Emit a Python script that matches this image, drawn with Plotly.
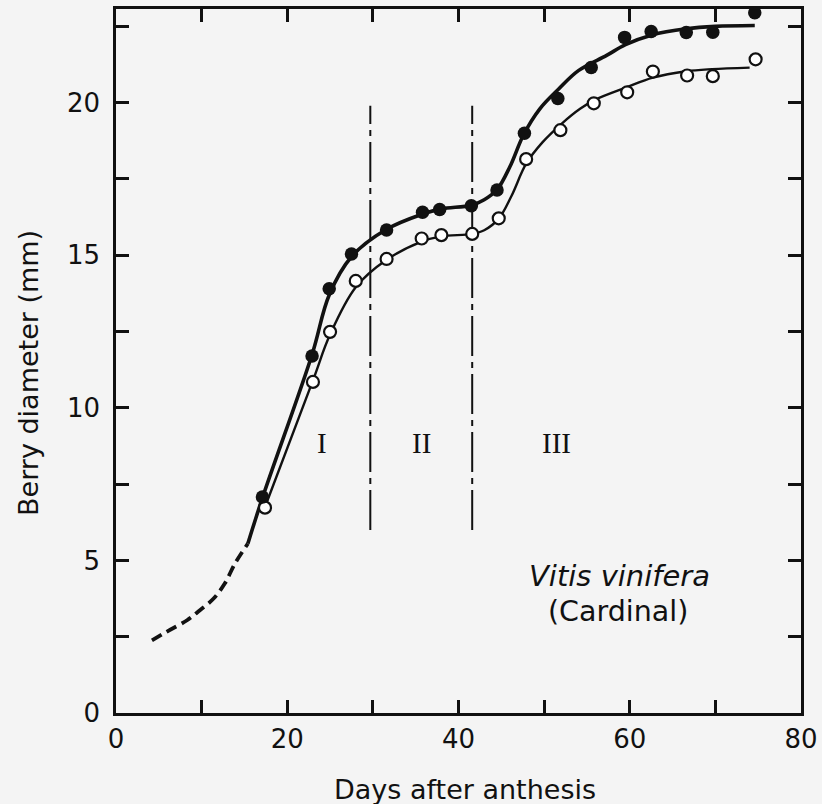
import plotly.graph_objects as go

# ---- data ----
# Measured berry diameters (mm)
days_filled = [17.1, 22.9, 24.9, 27.5, 31.6, 35.8, 37.8, 41.5, 44.5, 47.7, 51.6, 55.5, 59.4, 62.5, 66.6, 69.7, 74.6]
diam_filled = [7.08, 11.7, 13.9, 15.04, 15.83, 16.41, 16.5, 16.62, 17.14, 19.0, 20.14, 21.15, 22.14, 22.33, 22.3, 22.31, 22.95]

days_open = [17.4, 23.0, 25.0, 28.0, 31.6, 35.7, 38.0, 41.6, 44.7, 47.9, 51.9, 55.8, 59.7, 62.7, 66.7, 69.7, 74.7]
diam_open = [6.73, 10.85, 12.49, 14.16, 14.88, 15.55, 15.66, 15.7, 16.21, 18.15, 19.1, 19.98, 20.34, 21.02, 20.89, 20.87, 21.42]

# Fitted curves
curve_filled_days = [15.4, 17.1, 22.9, 24.9, 27.5, 31.6, 35.8, 38.0, 41.5, 43.0, 44.5, 46.0, 47.6, 49.5, 51.7, 54.0, 57.3, 59.5, 62.6, 66.6, 70.0, 74.6]
curve_filled_diam = [5.55, 7.05, 11.75, 13.7, 14.95, 15.85, 16.35, 16.52, 16.64, 16.82, 17.15, 17.9, 18.95, 19.8, 20.45, 21.05, 21.55, 21.9, 22.22, 22.42, 22.5, 22.53]

curve_open_days = [17.4, 23.0, 25.0, 28.0, 31.6, 35.7, 38.0, 41.6, 43.0, 44.7, 46.2, 47.9, 49.8, 52.0, 54.2, 56.0, 59.6, 62.7, 66.6, 69.6, 74.0]
curve_open_diam = [6.75, 10.9, 12.4, 13.95, 14.85, 15.45, 15.62, 15.7, 15.82, 16.2, 16.95, 18.0, 18.7, 19.3, 19.8, 20.1, 20.5, 20.82, 21.03, 21.1, 21.15]

# Extrapolated (dashed) early growth
dashed_days = [4.2, 5.9, 8.3, 9.8, 11.4, 12.7, 13.9, 15.4]
dashed_diam = [2.38, 2.66, 3.04, 3.37, 3.75, 4.24, 4.9, 5.55]

# Stage boundaries (days) and their vertical extent (mm)
stage_bounds = [29.7, 41.6]
stage_line_span = [6.0, 19.9]
stage_labels = ["I", "II", "III"]
stage_label_days = [24.1, 35.7, 51.5]
stage_label_y = 8.85

x_tick_vals = [0, 10, 20, 30, 40, 50, 60, 70, 80]
x_tick_text = ["0", "", "20", "", "40", "", "60", "", "80"]
y_tick_vals = [0, 2.5, 5, 7.5, 10, 12.5, 15, 17.5, 20, 22.5]
y_tick_text = ["0", "", "5", "", "10", "", "15", "", "20", ""]

INK = "#111111"
BG = "#f4f4f4"

fig = go.Figure()

fig.add_trace(go.Scatter(x=dashed_days, y=dashed_diam, mode="lines",
                         line=dict(color=INK, width=3.8, dash="11px,6px", shape="spline"),
                         showlegend=False, hoverinfo="skip"))

for xb in stage_bounds:
    fig.add_trace(go.Scatter(x=[xb, xb], y=stage_line_span, mode="lines",
                             line=dict(color=INK, width=2, dash="40px,6px,6px,6px"),
                             showlegend=False, hoverinfo="skip"))

fig.add_trace(go.Scatter(x=curve_open_days, y=curve_open_diam, mode="lines",
                         line=dict(color=INK, width=2.4, shape="spline", smoothing=1.0),
                         showlegend=False, hoverinfo="skip"))
fig.add_trace(go.Scatter(x=curve_filled_days, y=curve_filled_diam, mode="lines",
                         line=dict(color=INK, width=3.6, shape="spline", smoothing=1.0),
                         showlegend=False, hoverinfo="skip"))

fig.add_trace(go.Scatter(x=days_open, y=diam_open, mode="markers", cliponaxis=False,
                         marker=dict(symbol="circle", size=12, color="white",
                                     line=dict(color=INK, width=2.2)),
                         showlegend=False))
fig.add_trace(go.Scatter(x=days_filled, y=diam_filled, mode="markers", cliponaxis=False,
                         marker=dict(symbol="circle", size=13.5, color=INK,
                                     line=dict(color=INK, width=0)),
                         showlegend=False))

annotations = []
for lab, d in zip(stage_labels, stage_label_days):
    annotations.append(dict(x=d, y=stage_label_y, xref="x", yref="y", text=lab,
                            showarrow=False,
                            font=dict(family="Liberation Serif", size=29, color=INK)))

annotations.append(dict(x=58.8, y=4.5, xref="x", yref="y", text="<i>Vitis vinifera</i>",
                        showarrow=False, font=dict(family="DejaVu Sans", size=29, color=INK)))
annotations.append(dict(x=58.6, y=3.33, xref="x", yref="y", text="(Cardinal)",
                        showarrow=False, font=dict(family="DejaVu Sans", size=28.5, color=INK)))

annotations.append(dict(x=0.5095, y=-0.108, xref="paper", yref="paper",
                        text="Days after anthesis", showarrow=False,
                        xanchor="center", yanchor="middle",
                        font=dict(family="DejaVu Sans", size=27, color=INK)))
annotations.append(dict(x=-0.127, y=0.483, xref="paper", yref="paper",
                        text="Berry diameter (mm)", showarrow=False, textangle=-90,
                        xanchor="center", yanchor="middle",
                        font=dict(family="DejaVu Sans", size=27, color=INK)))

axis_common = dict(showgrid=False, zeroline=False, showline=True, linecolor=INK,
                   linewidth=2.5, mirror="ticks", ticks="inside", ticklen=13,
                   tickwidth=2.5, tickcolor=INK, automargin=False,
                   tickfont=dict(family="DejaVu Sans", size=26, color=INK))

fig.update_layout(
    width=822, height=804,
    margin=dict(l=116, r=21, t=9, b=91),
    paper_bgcolor=BG, plot_bgcolor=BG,
    xaxis=dict(range=[0, 80], tickmode="array", tickvals=x_tick_vals,
               ticktext=x_tick_text, ticklabelstandoff=1, **axis_common),
    yaxis=dict(range=[0, 23.07], tickmode="array", tickvals=y_tick_vals,
               ticktext=y_tick_text, ticklabelstandoff=8, **axis_common),
    annotations=annotations,
    showlegend=False,
)

fig.write_html(
    "out.html",
    config={"displayModeBar": False},
    post_script="document.body.style.margin='0';document.body.style.background='%s';" % BG,
)
